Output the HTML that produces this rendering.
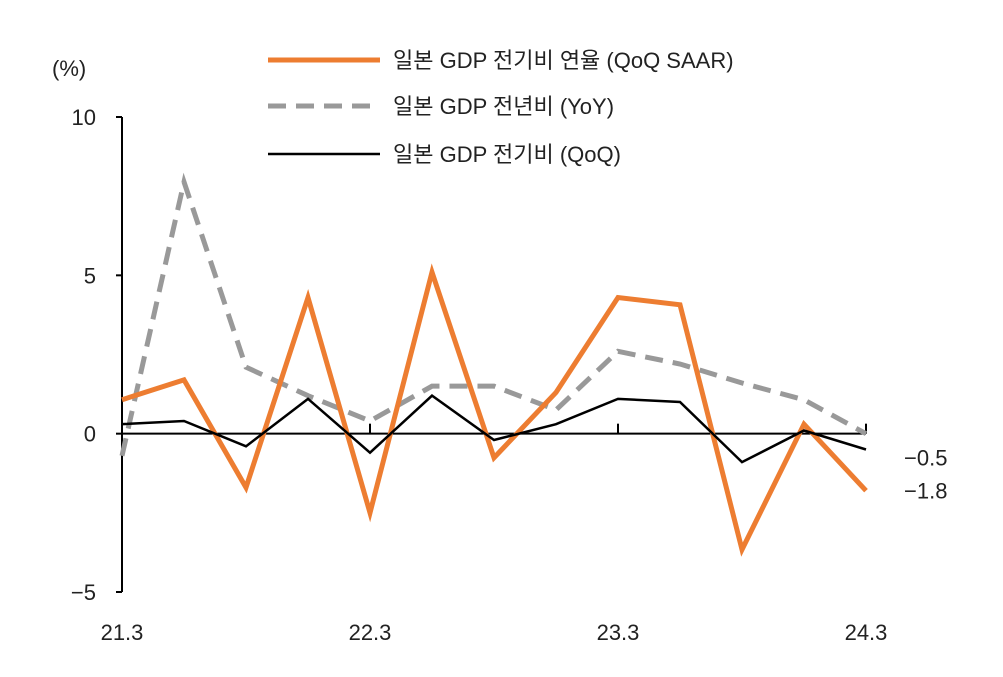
<!DOCTYPE html>
<html><head><meta charset="utf-8">
<style>
body{margin:0;background:#fff;}
svg text{font-family:"Liberation Sans","Noto Sans CJK KR",sans-serif;fill:#222;}
</style></head>
<body>
<svg id="chart" width="1003" height="672" xmlns="http://www.w3.org/2000/svg">
<g id="axes"></g>
<g id="series"></g>
<g id="legend">
  <line x1="268" y1="60" x2="380" y2="60" stroke="#ED7D31" stroke-width="5"/>
  <text x="393" y="68" font-size="22">일본 GDP 전기비 연율 (QoQ SAAR)</text>
  <line x1="268" y1="106" x2="380" y2="106" stroke="#999" stroke-width="5" stroke-dasharray="18,10"/>
  <text x="393" y="114" font-size="22">일본 GDP 전년비 (YoY)</text>
  <line x1="268" y1="154" x2="380" y2="154" stroke="#000" stroke-width="2.5"/>
  <text x="393" y="162" font-size="22">일본 GDP 전기비 (QoQ)</text>
</g>
</svg>
<script>
const categories=["21.3","21.6","21.9","21.12","22.3","22.6","22.9","22.12","23.3","23.6","23.9","23.12","24.3"];
const saar=[1.07,1.7,-1.7,4.3,-2.5,5.1,-0.76,1.3,4.3,4.07,-3.66,0.3,-1.8];
const yoy=[-0.7,7.95,2.1,1.2,0.4,1.5,1.5,0.75,2.6,2.2,1.6,1.07,0.0];
const qoq=[0.3,0.4,-0.4,1.1,-0.6,1.2,-0.2,0.3,1.1,1.0,-0.9,0.1,-0.5];
const yTicks=[10,5,0,-5];
const xLabels=["21.3","22.3","23.3","24.3"];
const endLabels=["-0.5","-1.8"];

const NS="http://www.w3.org/2000/svg";
const x0=122,x1=866,yTop=117,yBot=592,vMax=10,vMin=-5;
function xs(i){return x0+(x1-x0)*i/(categories.length-1);}
function ys(v){return yTop+(vMax-v)*(yBot-yTop)/(vMax-vMin);}
function mk(tag,attrs,parent){const e=document.createElementNS(NS,tag);for(const k in attrs)e.setAttribute(k,attrs[k]);parent.appendChild(e);return e;}
const axes=document.getElementById('axes'),series=document.getElementById('series');

let ya=mk('line',{x1:x0,y1:yTop,x2:x0,y2:yBot,stroke:'#000','stroke-width':2},axes);


yTicks.forEach(v=>{
  let t=mk('line',{x1:x0-6,y1:ys(v),x2:x0,y2:ys(v),stroke:'#000','stroke-width':2},axes);
  
  
  let l=mk('text',{x:x0-26,y:ys(v)+8,'font-size':22,'text-anchor':'end'},axes);
  l.textContent=v<0?'\u2212'+Math.abs(v):String(v);
  
  
});
let yt=mk('text',{x:52,y:76,'font-size':22},axes);
yt.textContent='(%)';


let xa=mk('line',{x1:x0,y1:ys(0),x2:x1,y2:ys(0),stroke:'#000','stroke-width':2},axes);


xLabels.forEach(lbl=>{
  const i=categories.indexOf(lbl);
  let t=mk('line',{x1:xs(i),y1:ys(0)-10,x2:xs(i),y2:ys(0),stroke:'#000','stroke-width':2},axes);
  
  
  let l=mk('text',{x:xs(i),y:640,'font-size':22,'text-anchor':'middle'},axes);
  l.textContent=lbl;
  
  
});
function pts(arr){return arr.map((v,i)=>xs(i)+','+ys(v)).join(' ');}
let p1=mk('polyline',{points:pts(yoy),fill:'none',stroke:'#999','stroke-width':5,'stroke-dasharray':'18,10'},series);


let p2=mk('polyline',{points:pts(saar),fill:'none',stroke:'#ED7D31','stroke-width':5,'stroke-linejoin':'miter'},series);


let p3=mk('polyline',{points:pts(qoq),fill:'none',stroke:'#000','stroke-width':2.5},series);


const n=categories.length-1;
[qoq[n],saar[n]].forEach((v,k)=>{
  let l=mk('text',{x:904,y:ys(v)+8+(k===0?8:0),'font-size':22},series);
  l.textContent=endLabels[k].replace('-','\u2212');
  
  
});
</script>
</body></html>
